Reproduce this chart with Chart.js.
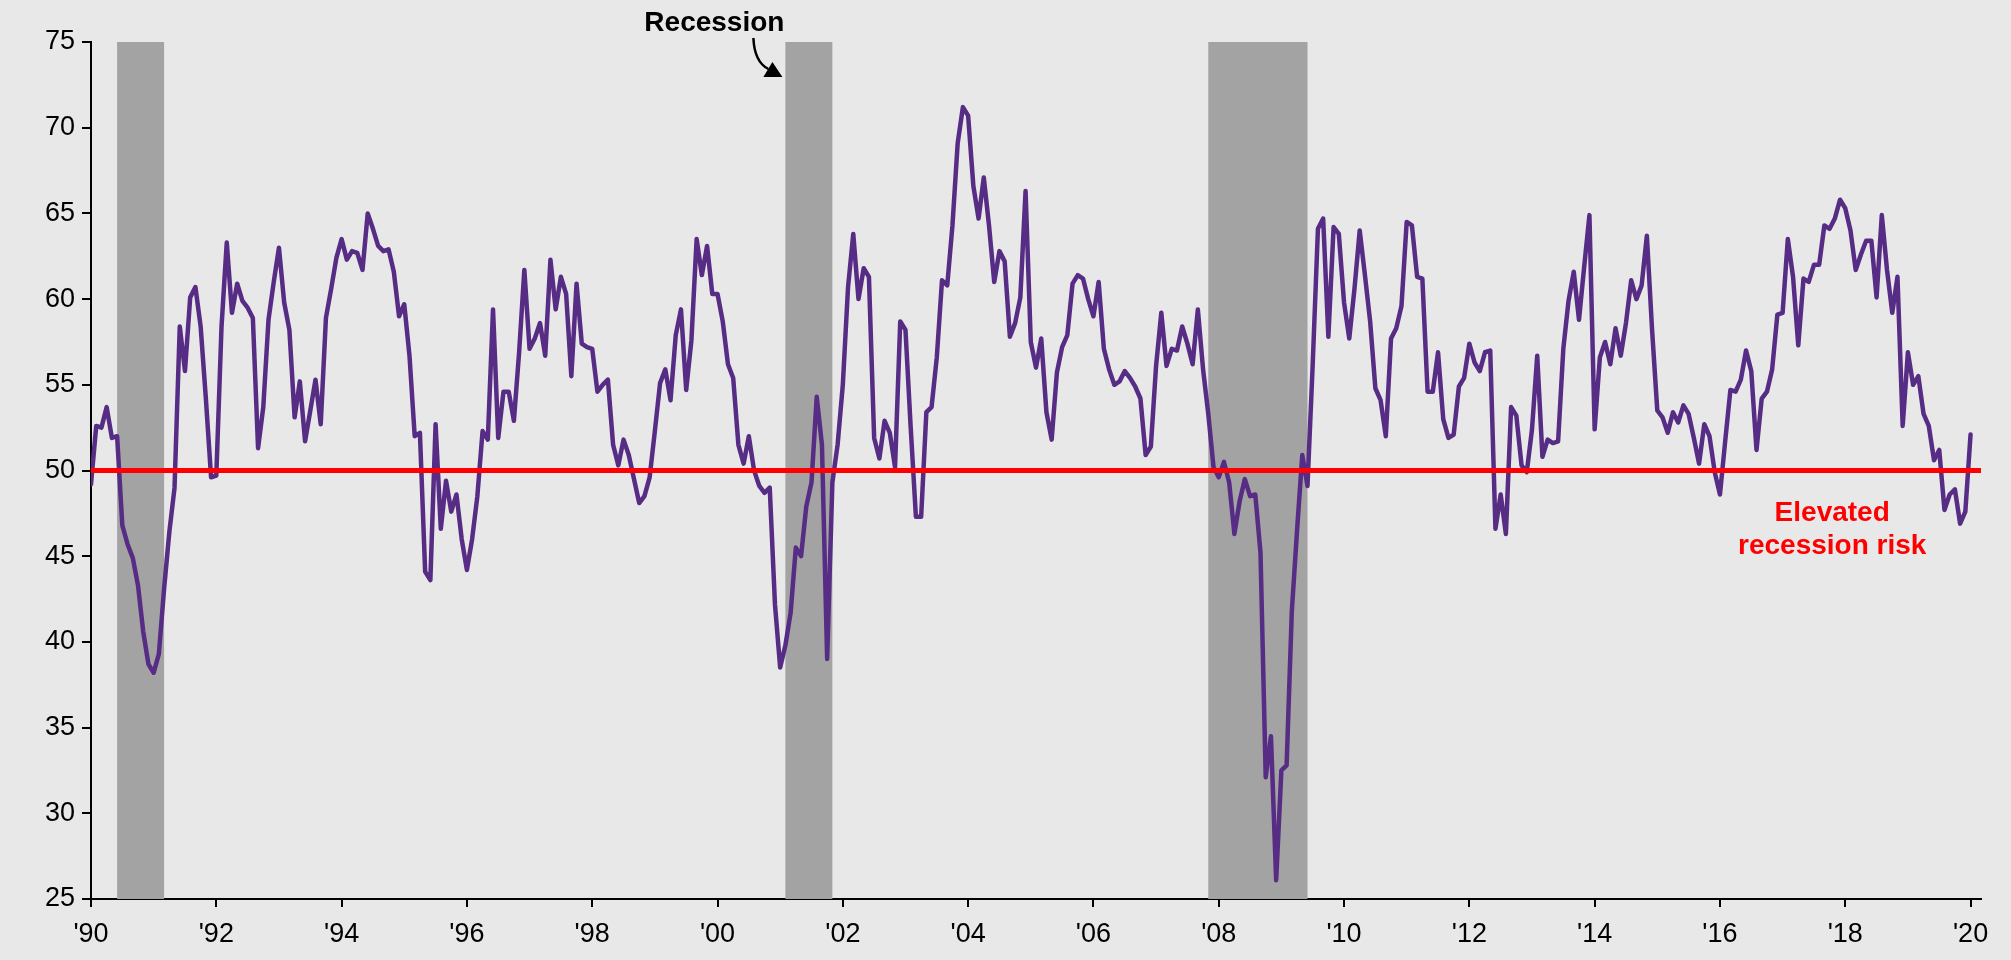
<!DOCTYPE html>
<html>
<head>
<meta charset="utf-8">
<script src="https://cdn.jsdelivr.net/npm/chart.js@4/dist/chart.umd.min.js"></script>
<style>
html,body{margin:0;padding:0;background:#e8e8e8;}
#wrap{width:2011px;height:960px;position:relative;}
canvas{display:block;}
</style>
</head>
<body>
<div id="wrap"><canvas id="c" width="2011" height="960"></canvas></div>
<script>
// Monthly index values, Jan 1990 .. Jan 2020 (month index 0 = Jan 1990)
const values = [
  49.2, 52.6, 52.5, 53.7, 51.9, 52.0, 46.8, 45.7, 44.9, 43.3, 40.6, 38.7, // 1990
  38.2, 39.3, 43.1, 46.4, 49.0, 58.4, 55.8, 60.1, 60.7, 58.4, 54.2, 49.6, // 1991
  49.7, 58.4, 63.3, 59.2, 60.9, 59.9, 59.5, 58.9, 51.3, 53.7, 58.8, 61.0, // 1992
  63.0, 59.8, 58.2, 53.1, 55.2, 51.7, 53.5, 55.3, 52.7, 58.9, 60.6, 62.4, // 1993
  63.5, 62.3, 62.8, 62.7, 61.7, 65.0, 64.1, 63.1, 62.8, 62.9, 61.6, 59.0, // 1994
  59.7, 56.7, 52.0, 52.2, 44.1, 43.6, 52.7, 46.6, 49.4, 47.6, 48.6, 46.0, // 1995
  44.2, 46.0, 48.5, 52.3, 51.8, 59.4, 51.9, 54.6, 54.6, 52.9, 56.9, 61.7, // 1996
  57.1, 57.7, 58.6, 56.7, 62.3, 59.4, 61.3, 60.3, 55.5, 60.9, 57.4, 57.2, // 1997
  57.1, 54.6, 55.0, 55.3, 51.5, 50.3, 51.8, 50.9, 49.5, 48.1, 48.5, 49.6, // 1998
  52.3, 55.1, 55.9, 54.1, 57.9, 59.4, 54.7, 57.6, 63.5, 61.4, 63.1, 60.3, // 1999
  60.3, 58.7, 56.2, 55.4, 51.5, 50.4, 52.0, 50.0, 49.1, 48.7, 49.0, 42.2, // 2000
  38.5, 39.8, 41.7, 45.5, 45.0, 47.9, 49.3, 54.3, 51.5, 39.0, 49.3, 51.5, // 2001
  55.0, 60.7, 63.8, 60.0, 61.8, 61.3, 51.9, 50.7, 52.9, 52.2, 50.2, 58.7, // 2002
  58.2, 52.5, 47.3, 47.3, 53.4, 53.7, 56.6, 61.1, 60.8, 64.3, 69.1, 71.2, // 2003
  70.7, 66.6, 64.7, 67.1, 64.3, 61.0, 62.8, 62.2, 57.8, 58.6, 60.1, 66.3, // 2004
  57.5, 56.0, 57.7, 53.4, 51.8, 55.7, 57.2, 57.9, 60.9, 61.4, 61.2, 60.0, // 2005
  59.0, 61.0, 57.1, 55.9, 55.0, 55.2, 55.8, 55.4, 54.9, 54.2, 50.9, 51.4, // 2006
  56.1, 59.2, 56.1, 57.1, 57.0, 58.4, 57.4, 56.2, 59.4, 55.9, 53.3, 50.2, // 2007
  49.6, 50.5, 49.3, 46.3, 48.2, 49.5, 48.5, 48.6, 45.2, 32.1, 34.5, 26.1, // 2008
  32.5, 32.8, 41.8, 46.5, 50.9, 49.1, 56.2, 64.1, 64.7, 57.8, 64.2, 63.8, // 2009
  59.8, 57.7, 60.6, 64.0, 61.4, 58.7, 54.8, 54.1, 52.0, 57.7, 58.3, 59.6, // 2010
  64.5, 64.3, 61.3, 61.2, 54.6, 54.6, 56.9, 53.0, 51.9, 52.1, 54.9, 55.4, // 2011
  57.4, 56.3, 55.8, 56.9, 57.0, 46.6, 48.6, 46.3, 53.7, 53.2, 50.3, 49.9, // 2012
  52.4, 56.7, 50.8, 51.8, 51.6, 51.7, 57.1, 59.9, 61.6, 58.8, 61.9, 64.9, // 2013
  52.4, 56.6, 57.5, 56.2, 58.3, 56.7, 58.6, 61.1, 60.0, 60.8, 63.7, 58.2, // 2014
  53.5, 53.1, 52.2, 53.4, 52.8, 53.8, 53.3, 51.9, 50.4, 52.7, 52.0, 49.9, // 2015
  48.6, 51.7, 54.7, 54.6, 55.3, 57.0, 55.8, 51.2, 54.2, 54.6, 55.9, 59.1, // 2016
  59.2, 63.5, 61.3, 57.3, 61.2, 61.0, 62.0, 62.0, 64.3, 64.1, 64.7, 65.8, // 2017
  65.3, 64.0, 61.7, 62.6, 63.4, 63.4, 60.1, 64.9, 61.7, 59.2, 61.3, 52.6, // 2018
  56.9, 55.0, 55.5, 53.3, 52.6, 50.6, 51.2, 47.7, 48.6, 48.9, 46.9, 47.6, // 2019
  52.1                                                                    // 2020
];

// Recession shading, in month indices
const recessionStarts = [5, 133, 214];
const recessionEnds   = [14, 142, 233];

// x-axis ticks (month index) and labels
const xTickMonths = [0, 24, 48, 72, 96, 120, 144, 168, 192, 216, 240, 264, 288, 312, 336, 360];
const xTickLabels = ["'90","'92","'94","'96","'98","'00","'02","'04","'06","'08","'10","'12","'14","'16","'18","'20"];

const threshold = 50;
const xMax = 362;

const FONT = '"Liberation Sans", Arial, Helvetica, sans-serif';

const bgPlugin = {
  id: 'bg',
  beforeDraw(chart) {
    const ctx = chart.ctx;
    ctx.save();
    ctx.fillStyle = '#e8e8e8';
    ctx.fillRect(0, 0, chart.width, chart.height);
    ctx.restore();
  }
};

const bandPlugin = {
  id: 'bands',
  beforeDatasetsDraw(chart) {
    const ctx = chart.ctx, xs = chart.scales.x, a = chart.chartArea;
    ctx.save();
    ctx.fillStyle = '#a3a3a3';
    for (let i = 0; i < recessionStarts.length; i++) {
      const x1 = xs.getPixelForValue(recessionStarts[i]);
      const x2 = xs.getPixelForValue(recessionEnds[i]);
      ctx.fillRect(x1, a.top, x2 - x1, a.bottom - a.top);
    }
    ctx.restore();
  }
};

const notePlugin = {
  id: 'notes',
  afterDraw(chart) {
    const ctx = chart.ctx, xs = chart.scales.x, ys = chart.scales.y, a = chart.chartArea;
    ctx.save();
    // "Recession" label with arrow pointing at 2001 band
    const bx = xs.getPixelForValue(recessionStarts[1]);
    const top = a.top;
    ctx.fillStyle = '#000';
    ctx.font = 'bold 28px ' + FONT;
    ctx.textAlign = 'center';
    ctx.textBaseline = 'alphabetic';
    ctx.fillText('Recession', bx - 71, top - 11);
    ctx.strokeStyle = '#000';
    ctx.lineWidth = 2.5;
    ctx.beginPath();
    ctx.moveTo(bx - 32, top - 4);
    ctx.quadraticCurveTo(bx - 31, top + 20, bx - 17, top + 27);
    ctx.stroke();
    ctx.beginPath();
    ctx.moveTo(bx - 3, top + 35);
    ctx.lineTo(bx - 13, top + 20);
    ctx.lineTo(bx - 22, top + 35);
    ctx.closePath();
    ctx.fill();
    // Elevated recession risk
    const ty = ys.getPixelForValue(threshold);
    const tx = xs.getPixelForValue(333.5);
    ctx.fillStyle = '#ff0000';
    ctx.fillText('Elevated', tx, ty + 50);
    ctx.fillText('recession risk', tx, ty + 83);
    ctx.restore();
  }
};

new Chart(document.getElementById('c'), {
  type: 'line',
  data: {
    datasets: [
      {
        label: 'Threshold',
        data: [{x: 0, y: threshold}, {x: xMax, y: threshold}],
        borderColor: '#ff0000',
        borderWidth: 5,
        pointRadius: 0,
        borderCapStyle: 'butt'
      },
      {
        label: 'Index',
        data: values.map((v, i) => ({x: i, y: v})),
        borderColor: '#572c85',
        borderWidth: 4.5,
        pointRadius: 0,
        tension: 0,
        borderJoinStyle: 'round',
        borderCapStyle: 'round'
      }
    ]
  },
  options: {
    responsive: false,
    animation: false,
    devicePixelRatio: 1,
    layout: { padding: { top: 42, right: 30, left: 0, bottom: 0 } },
    plugins: { legend: { display: false }, tooltip: { enabled: false } },
    scales: {
      x: {
        type: 'linear',
        min: 0,
        max: xMax,
        afterBuildTicks(s) { s.ticks = xTickMonths.map(v => ({value: v})); },
        afterFit(s) { s.height = 61; },
        ticks: {
          autoSkip: false,
          maxRotation: 0,
          padding: 11,
          color: '#000',
          font: { family: FONT, size: 27 },
          callback(v) { const i = xTickMonths.indexOf(v); return i >= 0 ? xTickLabels[i] : ''; }
        },
        grid: { drawOnChartArea: false, drawTicks: true, tickLength: 8, color: '#000', lineWidth: 2 },
        border: { display: true, color: '#000', width: 2 }
      },
      y: {
        min: 25,
        max: 75,
        afterFit(s) { s.width = 91; },
        ticks: {
          stepSize: 5,
          padding: 7,
          color: '#000',
          font: { family: FONT, size: 27 }
        },
        grid: { drawOnChartArea: false, drawTicks: true, tickLength: 9, color: '#000', lineWidth: 2 },
        border: { display: true, color: '#000', width: 2 }
      }
    }
  },
  plugins: [bgPlugin, bandPlugin, notePlugin]
});
</script>
</body>
</html>
